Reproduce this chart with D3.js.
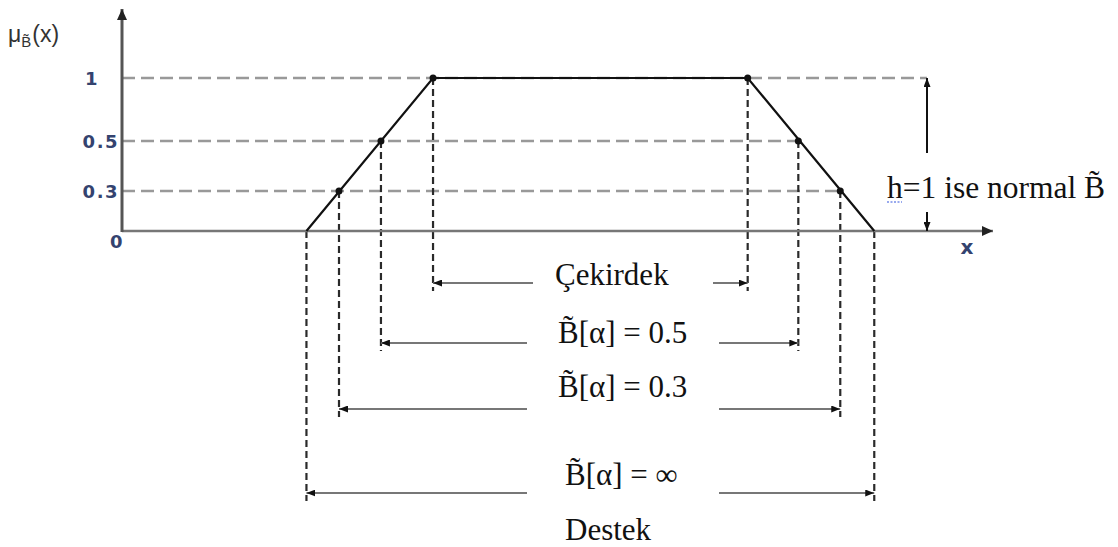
<!DOCTYPE html>
<html>
<head>
<meta charset="utf-8">
<script src="https://cdn.jsdelivr.net/npm/d3@7"></script>
<style>
  body { margin: 0; background: #fff; }
  svg { display: block; }
</style>
</head>
<body>
<div id="chart"></div>
<script>
// membership levels shown on the y axis
var levels = [0, 0.3, 0.5, 1];
var levelLabels = ["0", "0.3", "0.5", "1"];

// trapezoid corners a, b, c, d (x units) and their membership
var trapX = [2.55, 4.3, 8.65, 10.4];
var trapY = [0, 1, 1, 0];

// alpha cuts
var cutAlpha = [0.3, 0.5];
var cutLeft = [3.0, 3.58];
var cutRight = [9.93, 9.35];

// bracket rows under the axis: label, left end, right end
var rowLabels = ["Çekirdek", "B\u0303[α] = 0.5", "B\u0303[α] = 0.3", "B\u0303[α] = ∞"];
var rowLeft = [4.3, 3.58, 3.0, 2.55];
var rowRight = [8.65, 9.35, 9.93, 10.4];

var width = 1118, height = 547;

var svg = d3.select("#chart").append("svg")
    .attr("width", width)
    .attr("height", height);

// scales (the y axis of the sketch is not drawn to proportion)
var x = d3.scaleLinear().domain([0, 12]).range([122, 990]);
var y = d3.scaleLinear().domain([0, 0.3, 0.5, 1]).range([231, 191, 141, 78]);

var defs = svg.append("defs");
function addArrow(id, color, len, half) {
  defs.append("marker")
      .attr("id", id)
      .attr("markerUnits", "userSpaceOnUse")
      .attr("viewBox", "0 -" + half + " " + len + " " + (half * 2))
      .attr("refX", len).attr("refY", 0)
      .attr("markerWidth", len).attr("markerHeight", half * 2)
      .attr("orient", "auto")
    .append("path")
      .attr("d", "M0,-" + half + "L" + len + ",0L0," + half + "Z")
      .attr("fill", color);
}
addArrow("arrAxis", "#222", 11, 5);
addArrow("arrSmall", "#111", 9, 3.5);

var serif = "'Liberation Serif', 'Times New Roman', serif";

// horizontal dashed level lines
svg.append("line")
    .attr("x1", x(0)).attr("x2", 927)
    .attr("y1", y(1)).attr("y2", y(1))
    .attr("stroke", "#999").attr("stroke-width", 2.5)
    .attr("stroke-dasharray", "13,6");
svg.selectAll(".cutline")
  .data(cutAlpha)
  .enter().append("line")
    .attr("x1", x(0))
    .attr("x2", function(d, i) { return x(cutRight[i]); })
    .attr("y1", function(d) { return y(d); })
    .attr("y2", function(d) { return y(d); })
    .attr("stroke", "#999").attr("stroke-width", 2.5)
    .attr("stroke-dasharray", "13,6");

// vertical dashed drops from each point to its bracket row
var rowY = [283, 343, 409, 493];
var rowTop = [y(1), y(0.5), y(0.3), y(0)];
var drops = [];
rowLeft.forEach(function(v, i) {
  drops.push({x: rowLeft[i], top: rowTop[i], bottom: rowY[i] + 8});
  drops.push({x: rowRight[i], top: rowTop[i], bottom: rowY[i] + 8});
});
svg.selectAll(".drop")
  .data(drops)
  .enter().append("line")
    .attr("x1", function(d) { return x(d.x); })
    .attr("x2", function(d) { return x(d.x); })
    .attr("y1", function(d) { return d.top; })
    .attr("y2", function(d) { return d.bottom; })
    .attr("stroke", "#2a2a2a").attr("stroke-width", 2.2)
    .attr("stroke-dasharray", "7,4");

// axes
svg.append("line")
    .attr("x1", x(0)).attr("x2", 993)
    .attr("y1", y(0)).attr("y2", y(0))
    .attr("stroke", "#777").attr("stroke-width", 2.5)
    .attr("marker-end", "url(#arrAxis)");
svg.append("line")
    .attr("x1", x(0)).attr("x2", x(0))
    .attr("y1", y(0) + 1).attr("y2", 9)
    .attr("stroke", "#555").attr("stroke-width", 3)
    .attr("marker-end", "url(#arrAxis)");

// tick labels
var labelNudge = {"1": [-20, 0], "0": [5, 10]};
svg.selectAll(".tick")
  .data(levels)
  .enter().append("text")
    .attr("x", function(d, i) { return 119 + (labelNudge[levelLabels[i]] || [0, 0])[0]; })
    .attr("y", function(d, i) { return y(d) + 7 + (labelNudge[levelLabels[i]] || [0, 0])[1]; })
    .attr("text-anchor", "end")
    .attr("font-family", "'DejaVu Sans', sans-serif")
    .attr("font-weight", "bold")
    .attr("font-size", 18)
    .attr("letter-spacing", 1.5)
    .attr("fill", "#34436f")
    .text(function(d, i) { return levelLabels[i]; });

// y axis title
var yt = svg.append("text")
    .attr("x", 8).attr("y", 42)
    .attr("font-family", "'Liberation Sans', Arial, sans-serif")
    .attr("font-size", 23)
    .attr("fill", "#333");
yt.append("tspan").text("μ");
yt.append("tspan").attr("font-size", 15).attr("dy", 5).text("B\u0303");
yt.append("tspan").attr("dy", -5).attr("dx", 1).text("(x)");

// x axis label
svg.append("text")
    .attr("x", 967).attr("y", 254)
    .attr("text-anchor", "middle")
    .attr("font-family", "'DejaVu Sans', sans-serif")
    .attr("font-weight", "bold")
    .attr("font-size", 20)
    .attr("fill", "#34436f")
    .text("x");

// trapezoid
var line = d3.line()
    .x(function(d) { return x(d[0]); })
    .y(function(d) { return y(d[1]); });
svg.append("path")
    .datum(trapX.map(function(v, i) { return [v, trapY[i]]; }))
    .attr("d", line)
    .attr("fill", "none")
    .attr("stroke", "#111")
    .attr("stroke-width", 2.2);

// points on the trapezoid
var dots = [[trapX[1], 1], [trapX[2], 1]];
cutAlpha.forEach(function(a, i) {
  dots.push([cutLeft[i], a]);
  dots.push([cutRight[i], a]);
});
svg.selectAll(".dot")
  .data(dots)
  .enter().append("circle")
    .attr("cx", function(d) { return x(d[0]); })
    .attr("cy", function(d) { return y(d[1]); })
    .attr("r", 3.5)
    .attr("fill", "#111");

// height arrow on the right
svg.append("line")
    .attr("x1", 927).attr("x2", 927)
    .attr("y1", 153).attr("y2", y(1))
    .attr("stroke", "#111").attr("stroke-width", 2)
    .attr("marker-end", "url(#arrSmall)");
svg.append("line")
    .attr("x1", 927).attr("x2", 927)
    .attr("y1", 212).attr("y2", y(0))
    .attr("stroke", "#111").attr("stroke-width", 2)
    .attr("marker-end", "url(#arrSmall)");
svg.append("text")
    .attr("x", 887).attr("y", 198)
    .attr("font-family", serif)
    .attr("font-size", 31.5)
    .attr("fill", "#111")
    .text("h=1 ise normal B\u0303");
svg.append("line")
    .attr("x1", 887).attr("x2", 902)
    .attr("y1", 202).attr("y2", 202)
    .attr("stroke", "#3355dd").attr("stroke-width", 1.2)
    .attr("stroke-dasharray", "2,1.5");

// bracket rows
var rowTextX = [555, 558, 558, 565];
var rowTextY = [285, 343, 397, 485];
var gapLeft = [533, 527, 527, 527];
var gapRight = [713, 719, 719, 719];
rowLabels.forEach(function(lab, i) {
  svg.append("line")
      .attr("x1", gapLeft[i]).attr("x2", x(rowLeft[i]))
      .attr("y1", rowY[i]).attr("y2", rowY[i])
      .attr("stroke", "#777").attr("stroke-width", 2)
      .attr("marker-end", "url(#arrSmall)");
  svg.append("line")
      .attr("x1", gapRight[i]).attr("x2", x(rowRight[i]))
      .attr("y1", rowY[i]).attr("y2", rowY[i])
      .attr("stroke", "#777").attr("stroke-width", 2)
      .attr("marker-end", "url(#arrSmall)");
  svg.append("text")
      .attr("x", rowTextX[i]).attr("y", rowTextY[i])
      .attr("font-family", serif)
      .attr("font-size", 31)
      .attr("fill", "#111")
      .text(lab);
});

svg.append("text")
    .attr("x", 565).attr("y", 540)
    .attr("font-family", serif)
    .attr("font-size", 31)
    .attr("fill", "#111")
    .text("Destek");
</script>
</body>
</html>
